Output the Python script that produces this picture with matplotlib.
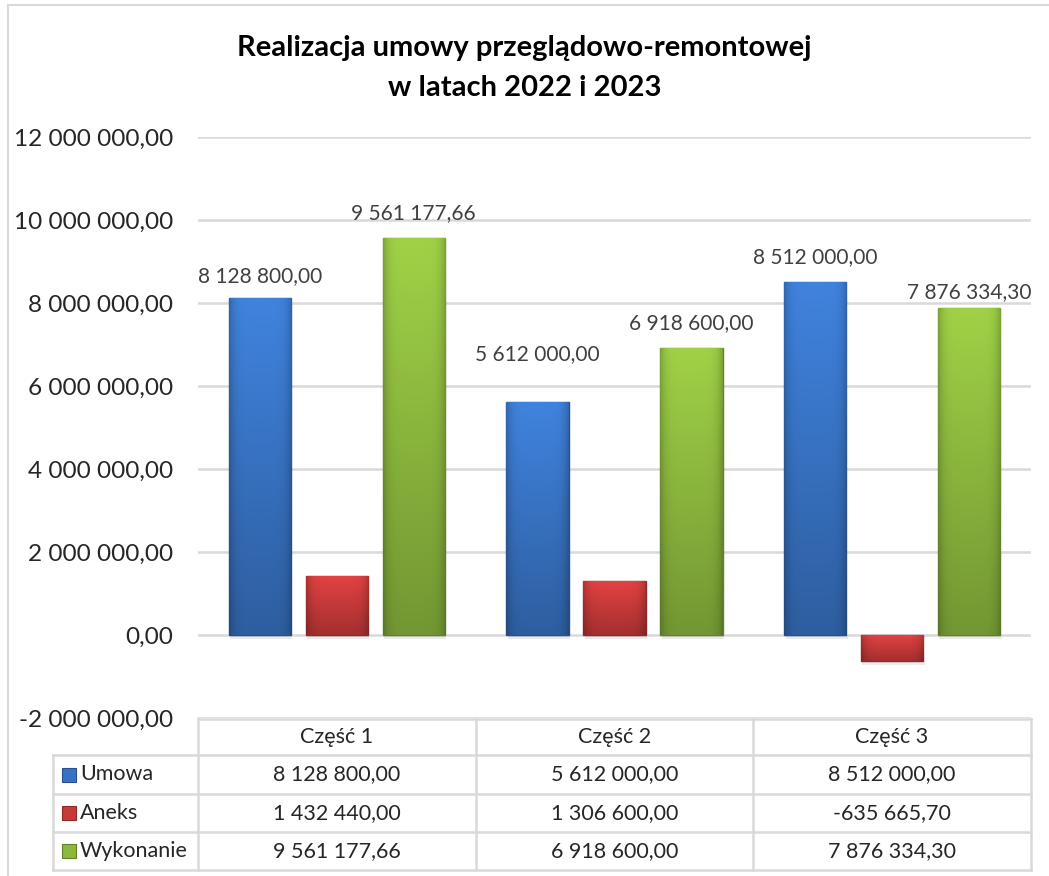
import numpy as np
import matplotlib.pyplot as plt
from matplotlib.patches import Rectangle
from matplotlib.ticker import FuncFormatter
from matplotlib.colors import to_rgb

plt.rcParams['font.family'] = ['Lato', 'DejaVu Sans']

# data
categories = ['Część 1', 'Część 2', 'Część 3']
series = ['Umowa', 'Aneks', 'Wykonanie']
umowa = [8128800.00, 5612000.00, 8512000.00]
aneks = [1432440.00, 1306600.00, -635665.70]
wykonanie = [9561177.66, 6918600.00, 7876334.30]
values = [umowa, aneks, wykonanie]
show_labels = [True, False, True]

colors = ['#3873C3', '#C83A3A', '#8CB83E']
# vertical offset (px) of the value labels above the bar tops
label_gap = {0: [22, 48, 25], 2: [25, 25, 16]}

GRID = '#D9D9D9'
TXT = '#262626'

W, H = 1049, 876


def fmt(v):
    s = f"{v:,.2f}"
    return s.replace(",", " ").replace(".", ",")


def fx(px):
    return px / W


def fy(py):
    return 1 - py / H


fig = plt.figure(figsize=(W / 100, H / 100), dpi=100)

# outer chart border
fig.patches.append(Rectangle((fx(8), fy(890)), fx(1100), fy(5) - fy(890),
                             transform=fig.transFigure, fill=False,
                             edgecolor=GRID, lw=1.5))

ax = fig.add_axes([fx(198), fy(718), fx(1031 - 198), fy(137) - fy(718)])
ax.set_xlim(-0.5, 2.5)
ax.set_ylim(-2000000, 12000000)
ax.set_yticks(np.arange(-2000000, 12000001, 2000000))
ax.yaxis.set_major_formatter(FuncFormatter(lambda v, p: fmt(v)))
ax.tick_params(axis='y', length=0, pad=18, labelsize=17.6, labelcolor=TXT)
ax.set_xticks([])
for sp in ax.spines.values():
    sp.set_visible(False)
ax.grid(axis='y', color=GRID, lw=1.8)
ax.set_axisbelow(True)

x = np.arange(len(categories))
width = 0.224
offsets = [-0.277, 0, 0.277]


def shade(color, n=64):
    # light top, darker bottom, darker sides
    base = np.array(to_rgb(color))
    ys = np.linspace(1.14, 0.82, n)[:, None]
    xs = np.linspace(0, 1, n)[None, :]
    side = 1 - 0.22 * (np.abs(xs - 0.5) * 2) ** 6
    f = ys * side
    img = np.clip(base[None, None, :] * f[:, :, None], 0, 1)
    return img


for i, vals in enumerate(values):
    bars = ax.bar(x + offsets[i], vals, width, color=colors[i],
                  edgecolor=np.array(to_rgb(colors[i])) * 0.7, lw=1, zorder=3)
    for b in bars:
        x0, y0 = b.get_x(), min(b.get_y(), b.get_y() + b.get_height())
        y1 = max(b.get_y(), b.get_y() + b.get_height())
        im = ax.imshow(shade(colors[i]), extent=[x0, x0 + b.get_width(), y0, y1],
                       aspect='auto', zorder=3.5, interpolation='bilinear')
        im.set_clip_path(b)
        # soft shadow under the bar
        ax.add_patch(Rectangle((x0 + 0.005, y0 - 90000), b.get_width(), 90000,
                               color='#000000', alpha=0.08, lw=0, zorder=2))
    if show_labels[i]:
        for j, b in enumerate(bars):
            ax.annotate(fmt(vals[j]), (b.get_x() + b.get_width() / 2, b.get_height()),
                        xytext=(0, label_gap[i][j] * 0.72), textcoords='offset points',
                        ha='center', va='center', fontsize=15, color='#404040')

ax.set_xlim(-0.5, 2.5)

fig.text(0.5, fy(48), 'Realizacja umowy przeglądowo-remontowej',
         ha='center', va='center', fontsize=21, fontweight='bold', color='#000000')
fig.text(0.5, fy(88), 'w latach 2022 i 2023',
         ha='center', va='center', fontsize=21, fontweight='bold', color='#000000')

# data table
row_y = [719, 755, 794, 832, 870]
col_x = [53, 198, 475.7, 753, 1031]


def hline(y, xa, xb):
    fig.add_artist(plt.Line2D([fx(xa), fx(xb)], [fy(y), fy(y)], color=GRID, lw=1.8))


def vline(xv, ya, yb):
    fig.add_artist(plt.Line2D([fx(xv), fx(xv)], [fy(ya), fy(yb)], color=GRID, lw=1.8))


hline(row_y[0], col_x[1], col_x[-1])
for y in row_y[1:]:
    hline(y, col_x[0], col_x[-1])
vline(col_x[0], row_y[1], row_y[-1])
for xv in col_x[1:]:
    vline(xv, row_y[0], row_y[-1])

for j, cat in enumerate(categories):
    cx = (col_x[j + 1] + col_x[j + 2]) / 2
    fig.text(fx(cx), fy((row_y[0] + row_y[1]) / 2), cat, ha='center', va='center',
             fontsize=15.5, color=TXT)
    for i, vals in enumerate(values):
        cy = (row_y[i + 1] + row_y[i + 2]) / 2
        fig.text(fx(cx), fy(cy), fmt(vals[j]), ha='center', va='center',
                 fontsize=15.5, color=TXT)

for i, name in enumerate(series):
    cy = (row_y[i + 1] + row_y[i + 2]) / 2
    fig.patches.append(Rectangle((fx(62), fy(cy + 7)), fx(14), fy(cy - 7) - fy(cy + 7),
                                 transform=fig.transFigure, facecolor=colors[i],
                                 edgecolor=np.array(to_rgb(colors[i])) * 0.7, lw=0.8))
    fig.text(fx(80), fy(cy), name, ha='left', va='center', fontsize=15.5, color=TXT)

fig.savefig('out.png', dpi=100, facecolor='white')
